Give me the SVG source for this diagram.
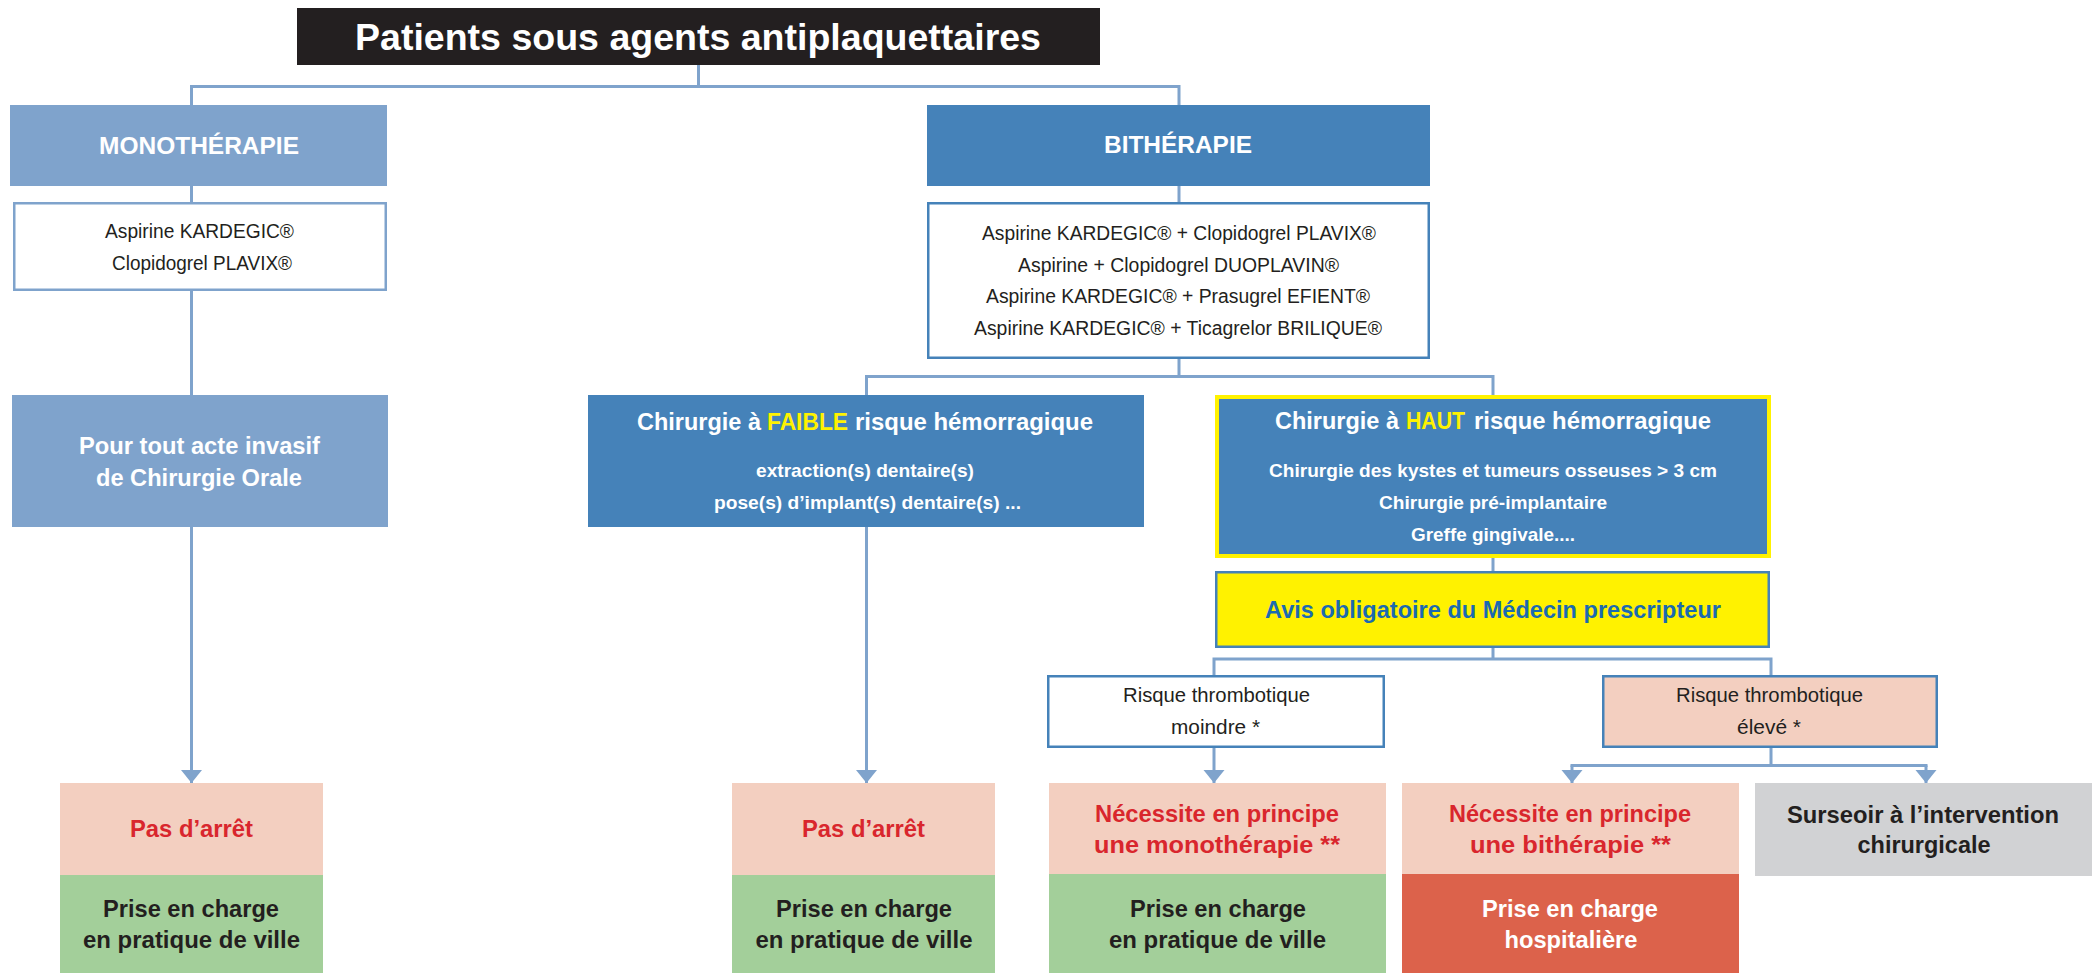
<svg xmlns="http://www.w3.org/2000/svg" width="2096" height="973" viewBox="0 0 2096 973">
<style>
text{font-family:"Liberation Sans Narrow","Liberation Sans",Arial,sans-serif;text-anchor:middle}
.b{font-weight:bold}
.w{fill:#FFFFFF}
.k{fill:#231F20}
.r{fill:#D9262D}
.y{fill:#FFF200}
.s{text-anchor:start}
.c{fill:none;stroke:#7FA3CC;stroke-width:3}
.lt{fill:#7FA3CC}
.dk{fill:#4582B9}
.pe{fill:#F3CFC0}
.gr{fill:#A3CF9A}
</style>
<defs>
<marker id="ah" markerUnits="userSpaceOnUse" markerWidth="14" markerHeight="22" refX="13" refY="11" orient="auto">
<path d="M0,0.5 L13,11 L0,21.5 z" fill="#7FA3CC"/>
</marker>
</defs>
<rect width="2096" height="973" fill="#FFFFFF"/>

<g id="connectors">
<path class="c" d="M698.5,65 V86.5 M190,86.5 H1180.5 M191.5,86.5 V105 M1179,86.5 V105"/>
<path class="c" d="M191.5,186 V202"/>
<path class="c" d="M191.5,291 V395"/>
<path class="c" d="M191.5,527 V783" marker-end="url(#ah)"/>
<path class="c" d="M1179,186 V202"/>
<path class="c" d="M1179,359 V376.5 M865,376.5 H1494.5 M866.5,376.5 V395 M1493,376.5 V395"/>
<path class="c" d="M866.5,527 V783" marker-end="url(#ah)"/>
<path class="c" d="M1493,558 V571"/>
<path class="c" d="M1493,648 V659 M1212.5,659 H1772.5 M1214,659 V675 M1771,659 V675"/>
<path class="c" d="M1214,748 V783" marker-end="url(#ah)"/>
<path class="c" d="M1771,748 V765.5 M1570.5,765.5 H1927.5"/>
<path class="c" d="M1572,765.5 V783" marker-end="url(#ah)"/>
<path class="c" d="M1926,765.5 V783" marker-end="url(#ah)"/>
</g>

<g id="title">
<rect x="297" y="8" width="803" height="57" fill="#231F20"/>
<text x="698" y="50" class="b w" font-size="36" textLength="686" lengthAdjust="spacingAndGlyphs">Patients sous agents antiplaquettaires</text>
</g>

<g id="monotherapie">
<rect x="10" y="105" width="377" height="81" class="lt"/>
<text x="199" y="154" class="b w" font-size="24" textLength="200" lengthAdjust="spacingAndGlyphs">MONOTHÉRAPIE</text>
</g>

<g id="mono-list">
<rect x="14.25" y="203.25" width="371.5" height="86.5" fill="#FFFFFF" stroke="#7FA3CC" stroke-width="2.5"/>
<text x="199.5" y="238" class="k" font-size="20" textLength="189" lengthAdjust="spacingAndGlyphs">Aspirine KARDEGIC®</text>
<text x="202" y="270" class="k" font-size="20" textLength="180" lengthAdjust="spacingAndGlyphs">Clopidogrel PLAVIX®</text>
</g>

<g id="acte-invasif">
<rect x="12" y="395" width="376" height="132" class="lt"/>
<text x="199.5" y="454" class="b w" font-size="23.5" textLength="241" lengthAdjust="spacingAndGlyphs">Pour tout acte invasif</text>
<text x="199" y="486" class="b w" font-size="23.5" textLength="206" lengthAdjust="spacingAndGlyphs">de Chirurgie Orale</text>
</g>

<g id="pas-arret-1">
<rect x="60" y="783" width="263" height="92" class="pe"/>
<text x="191.5" y="837" class="b r" font-size="24" textLength="123" lengthAdjust="spacingAndGlyphs">Pas d’arrêt</text>
</g>
<g id="ville-1">
<rect x="60" y="875" width="263" height="98" class="gr"/>
<text x="191" y="917" class="b k" font-size="24" textLength="176" lengthAdjust="spacingAndGlyphs">Prise en charge</text>
<text x="191.5" y="948" class="b k" font-size="24" textLength="217" lengthAdjust="spacingAndGlyphs">en pratique de ville</text>
</g>

<g id="bitherapie">
<rect x="927" y="105" width="503" height="81" class="dk"/>
<text x="1178" y="153" class="b w" font-size="24" textLength="148" lengthAdjust="spacingAndGlyphs">BITHÉRAPIE</text>
</g>

<g id="bi-list">
<rect x="928.25" y="203.25" width="500.5" height="154.5" fill="#FFFFFF" stroke="#4582B9" stroke-width="2.5"/>
<text x="1179" y="240" class="k" font-size="20" textLength="394" lengthAdjust="spacingAndGlyphs">Aspirine KARDEGIC® + Clopidogrel PLAVIX®</text>
<text x="1178.5" y="272" class="k" font-size="20" textLength="321" lengthAdjust="spacingAndGlyphs">Aspirine + Clopidogrel DUOPLAVIN®</text>
<text x="1178" y="303" class="k" font-size="20" textLength="384" lengthAdjust="spacingAndGlyphs">Aspirine KARDEGIC® + Prasugrel EFIENT®</text>
<text x="1178" y="335" class="k" font-size="20" textLength="408" lengthAdjust="spacingAndGlyphs">Aspirine KARDEGIC® + Ticagrelor BRILIQUE®</text>
</g>

<g id="faible">
<rect x="588" y="395" width="556" height="132" class="dk"/>
<text x="637" y="430" class="b w s" font-size="24" textLength="124" lengthAdjust="spacingAndGlyphs">Chirurgie à</text>
<text x="767" y="430" class="b y s" font-size="24" textLength="81" lengthAdjust="spacingAndGlyphs">FAIBLE</text>
<text x="855" y="430" class="b w s" font-size="24" textLength="238" lengthAdjust="spacingAndGlyphs">risque hémorragique</text>
<text x="865" y="477" class="b w" font-size="19" textLength="218" lengthAdjust="spacingAndGlyphs">extraction(s) dentaire(s)</text>
<text x="867.5" y="509" class="b w" font-size="19" textLength="307" lengthAdjust="spacingAndGlyphs">pose(s) d’implant(s) dentaire(s) ...</text>
</g>

<g id="pas-arret-2">
<rect x="732" y="783" width="263" height="92" class="pe"/>
<text x="863.5" y="837" class="b r" font-size="24" textLength="123" lengthAdjust="spacingAndGlyphs">Pas d’arrêt</text>
</g>
<g id="ville-2">
<rect x="732" y="875" width="263" height="98" class="gr"/>
<text x="864" y="917" class="b k" font-size="24" textLength="176" lengthAdjust="spacingAndGlyphs">Prise en charge</text>
<text x="864" y="948" class="b k" font-size="24" textLength="217" lengthAdjust="spacingAndGlyphs">en pratique de ville</text>
</g>

<g id="haut">
<rect x="1217" y="397" width="552" height="159" class="dk" stroke="#FFF200" stroke-width="4"/>
<text x="1275" y="429" class="b w s" font-size="24" textLength="124" lengthAdjust="spacingAndGlyphs">Chirurgie à</text>
<text x="1406" y="429" class="b y s" font-size="24" textLength="59" lengthAdjust="spacingAndGlyphs">HAUT</text>
<text x="1474" y="429" class="b w s" font-size="24" textLength="237" lengthAdjust="spacingAndGlyphs">risque hémorragique</text>
<text x="1493" y="477" class="b w" font-size="19" textLength="448" lengthAdjust="spacingAndGlyphs">Chirurgie des kystes et tumeurs osseuses &gt; 3 cm</text>
<text x="1493" y="509" class="b w" font-size="19" textLength="228" lengthAdjust="spacingAndGlyphs">Chirurgie pré-implantaire</text>
<text x="1493" y="541" class="b w" font-size="19" textLength="164" lengthAdjust="spacingAndGlyphs">Greffe gingivale....</text>
</g>

<g id="avis">
<rect x="1216.25" y="572.25" width="552.5" height="74.5" fill="#FFF200" stroke="#4582B9" stroke-width="2.5"/>
<text x="1493" y="618" class="b" fill="#1B6AB0" font-size="24" textLength="456" lengthAdjust="spacingAndGlyphs">Avis obligatoire du Médecin prescripteur</text>
</g>

<g id="risque-moindre">
<rect x="1048.25" y="676.25" width="335.5" height="70.5" fill="#FFFFFF" stroke="#4582B9" stroke-width="2.5"/>
<text x="1216.5" y="702" class="k" font-size="20" textLength="187" lengthAdjust="spacingAndGlyphs">Risque thrombotique</text>
<text x="1215.5" y="734" class="k" font-size="20" textLength="89" lengthAdjust="spacingAndGlyphs">moindre *</text>
</g>

<g id="risque-eleve">
<rect x="1603.25" y="676.25" width="333.5" height="70.5" class="pe" stroke="#4582B9" stroke-width="2.5"/>
<text x="1769.5" y="702" class="k" font-size="20" textLength="187" lengthAdjust="spacingAndGlyphs">Risque thrombotique</text>
<text x="1769" y="734" class="k" font-size="20" textLength="64" lengthAdjust="spacingAndGlyphs">élevé *</text>
</g>

<g id="necessite-mono">
<rect x="1049" y="783" width="337" height="91" class="pe"/>
<text x="1217" y="822" class="b r" font-size="24" textLength="244" lengthAdjust="spacingAndGlyphs">Nécessite en principe</text>
<text x="1217" y="853" class="b r" font-size="24" textLength="246" lengthAdjust="spacingAndGlyphs">une monothérapie **</text>
</g>
<g id="ville-3">
<rect x="1049" y="874" width="337" height="99" class="gr"/>
<text x="1218" y="917" class="b k" font-size="24" textLength="176" lengthAdjust="spacingAndGlyphs">Prise en charge</text>
<text x="1217.5" y="948" class="b k" font-size="24" textLength="217" lengthAdjust="spacingAndGlyphs">en pratique de ville</text>
</g>

<g id="necessite-bi">
<rect x="1402" y="783" width="337" height="91" class="pe"/>
<text x="1570" y="822" class="b r" font-size="24" textLength="242" lengthAdjust="spacingAndGlyphs">Nécessite en principe</text>
<text x="1570.5" y="853" class="b r" font-size="24" textLength="201" lengthAdjust="spacingAndGlyphs">une bithérapie **</text>
</g>
<g id="hospitaliere">
<rect x="1402" y="874" width="337" height="99" fill="#DC624B"/>
<text x="1570" y="917" class="b w" font-size="24" textLength="176" lengthAdjust="spacingAndGlyphs">Prise en charge</text>
<text x="1571" y="948" class="b w" font-size="24" textLength="133" lengthAdjust="spacingAndGlyphs">hospitalière</text>
</g>

<g id="surseoir">
<rect x="1755" y="783" width="337" height="93" fill="#D1D2D4"/>
<text x="1923" y="823" class="b k" font-size="24" textLength="272" lengthAdjust="spacingAndGlyphs">Surseoir à l’intervention</text>
<text x="1924" y="853" class="b k" font-size="24" textLength="133" lengthAdjust="spacingAndGlyphs">chirurgicale</text>
</g>
</svg>
